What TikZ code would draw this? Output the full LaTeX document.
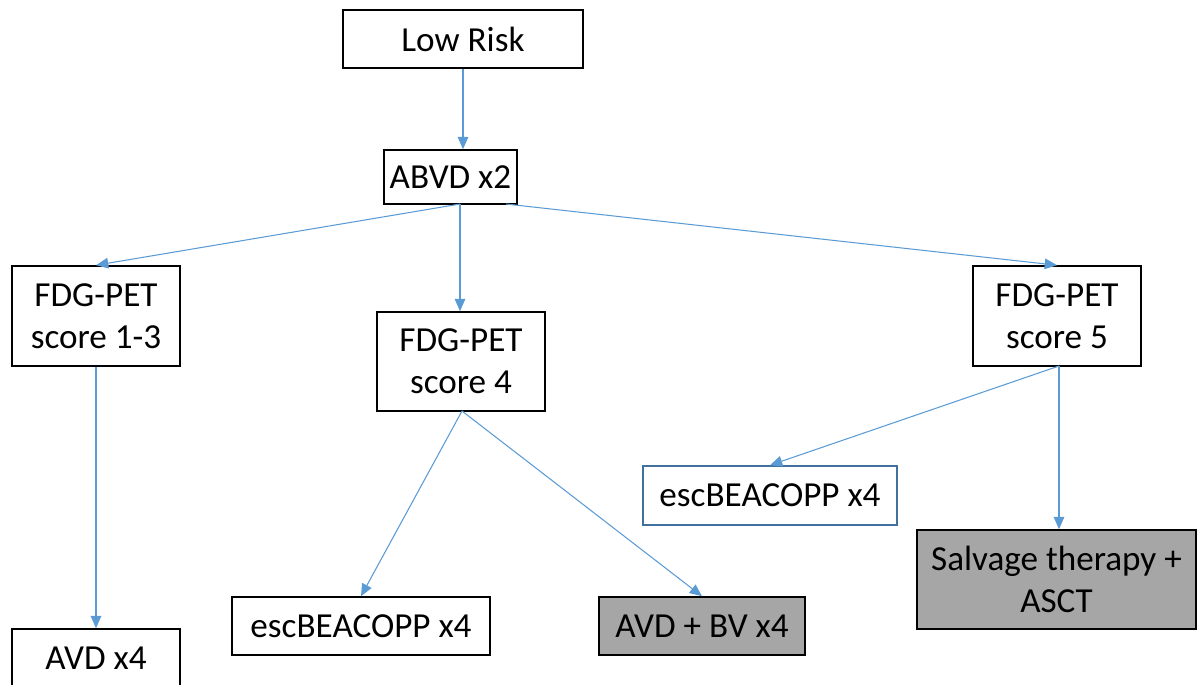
\documentclass[tikz,border=0pt]{standalone}
\usepackage{fontspec}
\setmainfont{Carlito}
\usetikzlibrary{arrows.meta}
\definecolor{arrowblue}{HTML}{5B9BD5}
\definecolor{boxblue}{HTML}{41719C}
\definecolor{boxgray}{HTML}{A6A6A6}
\tikzset{
  box/.style={draw=black, line width=0.9pt, fill=white, align=center, inner sep=0pt,
    font=\fontsize{20}{24}\selectfont},
  graybox/.style={box, fill=boxgray},
  bluebox/.style={box, draw=boxblue},
  conn/.style={draw=arrowblue, line width=0.6pt, -{Triangle[length=7pt,width=6pt]}}
}
\begin{document}
\begin{tikzpicture}[x=0.02cm, y=-0.02cm]
\useasboundingbox (0,0) rectangle (1198,684);
\clip (0,0) rectangle (1198,684);
\node[box, minimum width=4.8cm, minimum height=1.16cm] (low) at (463,39) {Low Risk};
\node[box, minimum width=2.66cm, minimum height=1.08cm] (abvd) at (450.5,177) {ABVD x2};
\node[box, minimum width=3.36cm, minimum height=2.0cm] (fdg1) at (96,316) {FDG-PET\\score 1-3};
\node[box, minimum width=3.36cm, minimum height=1.98cm] (fdg4) at (461,361.5) {FDG-PET\\score 4};
\node[box, minimum width=3.36cm, minimum height=2.0cm] (fdg5) at (1057,316) {FDG-PET\\score 5};
\node[bluebox, minimum width=5.08cm, minimum height=1.18cm] (escr) at (770,495.5) {escBEACOPP x4};
\node[graybox, minimum width=5.58cm, minimum height=1.98cm] (salv) at (1056.5,579.5) {Salvage therapy +\\ASCT};
\node[box, minimum width=5.16cm, minimum height=1.16cm] (escb) at (361,626) {escBEACOPP x4};
\node[graybox, minimum width=4.12cm, minimum height=1.16cm] (avdbv) at (702,626) {AVD + BV x4};
\node[box, minimum width=3.36cm, minimum height=1.16cm] (avd) at (96,658) {AVD x4};
\coordinate (abvdA) at (460,204);
\coordinate (abvdB) at (506,204);
\coordinate (fdg4S) at (462,411);
\coordinate (fdg5S) at (1059,366);
\draw[conn] (low.south) -- (low.south |- abvd.north);
\draw[conn] (abvdA) -- (fdg1.north);
\draw[conn] (abvdA) -- (abvdA |- fdg4.north);
\draw[conn] (abvdB) -- (fdg5.north);
\draw[conn] (fdg1.south) -- (avd.north);
\draw[conn] (fdg4S) -- (escb.north);
\draw[conn] (fdg4S) -- (avdbv.north);
\draw[conn] (fdg5S) -- (escr.north);
\draw[conn] (fdg5S) -- (fdg5S |- salv.north);
\end{tikzpicture}
\end{document}
